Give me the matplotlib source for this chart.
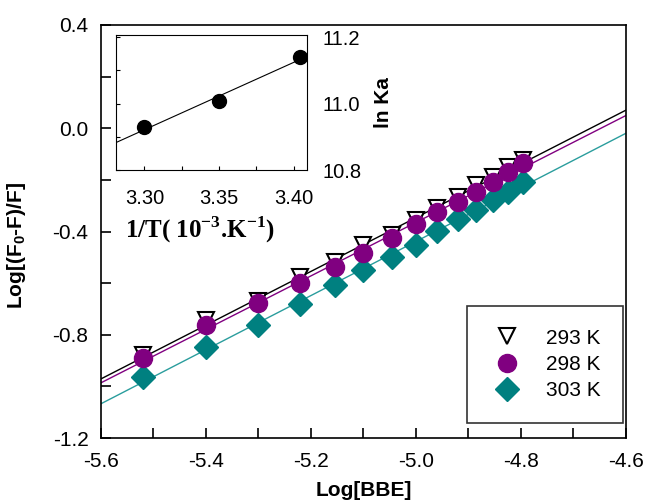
import matplotlib.pyplot as plt
import numpy as np
from matplotlib.ticker import MultipleLocator

plt.rcParams['font.family'] = ['Liberation Sans', 'DejaVu Sans']
plt.rcParams['mathtext.fontset'] = 'custom'
plt.rcParams['mathtext.rm'] = 'Liberation Serif:bold'
plt.rcParams['mathtext.sf'] = 'Liberation Sans:bold'

# данные
log_bbe = [-5.52, -5.40, -5.30, -5.22, -5.155, -5.10, -5.046, -5.00,
           -4.96, -4.92, -4.886, -4.854, -4.824, -4.796]
y_293 = [-0.879, -0.743, -0.670, -0.577, -0.519, -0.453, -0.414, -0.356,
         -0.309, -0.267, -0.220, -0.189, -0.150, -0.123]
y_298 = [-0.891, -0.763, -0.678, -0.600, -0.538, -0.484, -0.426, -0.371,
         -0.325, -0.286, -0.247, -0.209, -0.170, -0.135]
y_303 = [-0.964, -0.848, -0.763, -0.681, -0.608, -0.550, -0.499, -0.453,
         -0.398, -0.352, -0.317, -0.278, -0.247, -0.209]
labels = ['293 K', '298 K', '303 K']

inv_t = [3.300, 3.350, 3.404]
ln_ka = [10.929, 11.007, 11.139]

purple = '#800080'
teal = '#008080'

fig = plt.figure(figsize=(6.47, 5.03), dpi=100)
ax = fig.add_axes([0.1561, 0.1292, 0.8114, 0.8211])

xlim = (-5.6, -4.6)
xx = np.array(xlim)
series = [y_293, y_298, y_303]
line_colors = ['black', purple, '#2a9d9d']
for ys, lc in zip(series, line_colors):
    k, b = np.polyfit(log_bbe, ys, 1)
    ax.plot(xx, k * xx + b, color=lc, lw=1.0, zorder=1)

ax.plot(log_bbe, y_293, linestyle='None', marker='v', ms=12, mfc='white',
        mec='black', mew=1.5, label=labels[0], zorder=3)
ax.plot(log_bbe, y_298, linestyle='None', marker='o', ms=13, color=purple,
        label=labels[1], zorder=4)
ax.plot(log_bbe, y_303, linestyle='None', marker='D', ms=12, color=teal,
        label=labels[2], zorder=2)

ax.set_xlim(*xlim)
ax.set_ylim(-1.2, 0.4)
ax.xaxis.set_minor_locator(MultipleLocator(0.1))
ax.yaxis.set_minor_locator(MultipleLocator(0.2))
ax.set_xticks(np.arange(-5.6, -4.59, 0.2))
ax.set_xticklabels(['-5.6', '-5.4', '-5.2', '-5.0', '-4.8', '-4.6'])
ax.set_yticks(np.arange(-1.2, 0.41, 0.4))
ax.set_yticklabels(['-1.2', '-0.8', '-0.4', '0.0', '0.4'])
ax.tick_params(which='both', direction='in', length=7, width=1.2,
               labelsize=15, top=False, right=False)
ax.tick_params(axis='x', pad=10)
ax.tick_params(axis='y', pad=9)
for s in ax.spines.values():
    s.set_linewidth(1.2)

ax.set_xlabel('Log[BBE]', fontsize=15, fontweight='bold')
ax.xaxis.set_label_coords(0.5, -0.105)
ax.set_ylabel(r'Log[(F$_\mathsf{0}$-F)/F]', fontsize=15, fontweight='bold')
ax.yaxis.set_label_coords(-0.139, 0.465)

leg = ax.legend(loc='lower right', bbox_to_anchor=(0.995, 0.036),
                fontsize=15, frameon=True, fancybox=False, edgecolor='black',
                borderpad=1.1, labelspacing=0.35, handletextpad=1.0,
                borderaxespad=0, markerscale=1.0, handlelength=1.7)
leg.get_frame().set_linewidth(1.2)

# вставка
ax_in = fig.add_axes([0.1793, 0.662, 0.2952, 0.2684])
k, b = np.polyfit(inv_t, ln_ka, 1)
tx = np.array([3.281, inv_t[-1] + 0.004])
ax_in.plot(tx, k * tx + b, color='black', lw=0.8)
ax_in.plot(inv_t, ln_ka, linestyle='None', marker='o', ms=10, color='black')
ax_in.set_xlim(3.281, 3.409)
ax_in.set_ylim(10.8, 11.206)
ax_in.set_xticks([3.30, 3.35, 3.40])
ax_in.set_xticklabels(['3.30', '3.35', '3.40'])
ax_in.xaxis.set_minor_locator(MultipleLocator(0.025))
ax_in.set_yticks([10.8, 11.0, 11.2])
ax_in.set_yticklabels(['10.8', '11.0', '11.2'])
ax_in.yaxis.set_minor_locator(MultipleLocator(0.1))
ax_in.tick_params(which='both', direction='in', length=3, width=0.8,
                  labelsize=14.5, left=True, right=False, top=False,
                  labelleft=False, labelright=True)
ax_in.tick_params(axis='x', pad=14)
ax_in.tick_params(axis='y', pad=11)
ax_in.set_xlabel(r'1/T( 10$^{\mathrm{-3}}$.K$^{\mathrm{-1}}$)', fontsize=18,
                 fontfamily='Liberation Serif', fontweight='bold')
ax_in.xaxis.set_label_coords(0.44, -0.33)
ax_in.yaxis.set_label_position('right')
ax_in.set_ylabel('ln Ka', fontsize=15, fontweight='bold', rotation=90)
ax_in.yaxis.set_label_coords(1.35, 0.5)

fig.savefig('out.png', dpi=100)
